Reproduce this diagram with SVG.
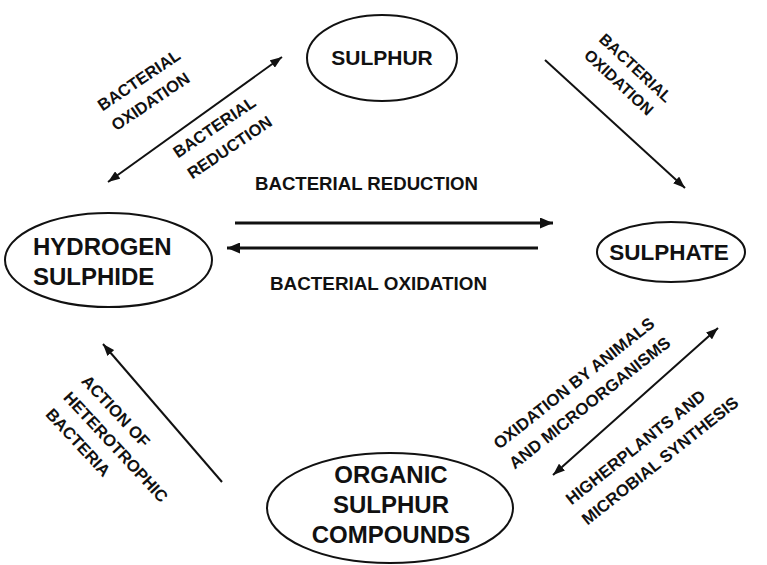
<svg xmlns="http://www.w3.org/2000/svg" width="767" height="565" viewBox="0 0 767 565">
<defs>
<style>
.node ellipse{fill:#fff;stroke:#111;stroke-width:2}
.nt{font-family:"Liberation Sans",Arial,sans-serif;font-weight:bold;font-size:24px;fill:#111}
.lbl{font-family:"Liberation Sans",Arial,sans-serif;font-weight:bold;fill:#111}
.conn line{stroke:#111;fill:none}
.d{stroke-width:2}
.h{stroke-width:3}
</style>
<marker id="ah" markerUnits="userSpaceOnUse" markerWidth="12" markerHeight="9" refX="12" refY="4.5" orient="auto-start-reverse" viewBox="0 0 12 9">
<path d="M0,0 L12,4.5 L0,9 z" fill="#111"/>
</marker>
<marker id="ahh" markerUnits="userSpaceOnUse" markerWidth="13" markerHeight="11" refX="13" refY="5.5" orient="auto" viewBox="0 0 13 11">
<path d="M0,0 L13,5.5 L0,11 z" fill="#111"/>
</marker>
</defs>
<rect width="767" height="565" fill="#fff"/>

<g id="sulphur" class="node">
<ellipse cx="382" cy="58" rx="75" ry="43"/>
<text class="nt" x="382" y="65" text-anchor="middle" style="font-size:21px">SULPHUR</text>
</g>

<g id="hydrogen-sulphide" class="node">
<ellipse cx="108.5" cy="260" rx="103.5" ry="47"/>
<text class="nt" x="33" y="255">HYDROGEN</text>
<text class="nt" x="33" y="285">SULPHIDE</text>
</g>

<g id="sulphate" class="node">
<ellipse cx="671" cy="252" rx="74" ry="30"/>
<text class="nt" x="669" y="260" text-anchor="middle" style="font-size:22.5px">SULPHATE</text>
</g>

<g id="organic-sulphur-compounds" class="node">
<ellipse cx="390" cy="508" rx="123" ry="55"/>
<text class="nt" x="391" y="483" text-anchor="middle">ORGANIC</text>
<text class="nt" x="391" y="513" text-anchor="middle">SULPHUR</text>
<text class="nt" x="391" y="543" text-anchor="middle">COMPOUNDS</text>
</g>

<g id="connectors" class="conn">
<line class="d" x1="108" y1="182" x2="282" y2="57" marker-start="url(#ah)" marker-end="url(#ah)"/>
<line class="d" x1="545" y1="60" x2="685" y2="188" marker-end="url(#ah)"/>
<line class="h" x1="235" y1="223" x2="553" y2="223" marker-end="url(#ahh)"/>
<line class="h" x1="538" y1="248" x2="227" y2="248" marker-end="url(#ahh)"/>
<line class="d" x1="222" y1="482" x2="103" y2="344" marker-end="url(#ah)"/>
<line class="d" x1="553" y1="475" x2="718" y2="328" marker-start="url(#ah)" marker-end="url(#ah)"/>
</g>

<g id="labels">
<text class="lbl" font-size="18.6" x="255" y="190" textLength="223" lengthAdjust="spacingAndGlyphs">BACTERIAL REDUCTION</text>
<text class="lbl" font-size="18.6" x="270" y="290" textLength="217" lengthAdjust="spacingAndGlyphs">BACTERIAL OXIDATION</text>

<g transform="translate(99.3,106.6) rotate(-34)">
<text class="lbl" font-size="16.5" x="0" y="5.9">BACTERIAL</text>
<text class="lbl" font-size="16.5" x="0" y="30.1">OXIDATION</text>
</g>
<g transform="translate(174.7,153.6) rotate(-34)">
<text class="lbl" font-size="16.5" x="0" y="5.9">BACTERIAL</text>
<text class="lbl" font-size="16.5" x="0" y="31.2">REDUCTION</text>
</g>
<g transform="translate(601.9,36.3) rotate(43)">
<text class="lbl" font-size="16" x="0" y="5.7">BACTERIAL</text>
<text class="lbl" font-size="16" x="0" y="27.7">OXIDATION</text>
</g>
<g transform="translate(84.8,377.6) rotate(47)">
<text class="lbl" font-size="16.6" x="0" y="5.9">ACTION OF</text>
<text class="lbl" font-size="16.6" x="0" y="30.4">HETEROTROPHIC</text>
<text class="lbl" font-size="16.6" x="0" y="54.9">BACTERIA</text>
</g>
<g transform="translate(495.4,445.3) rotate(-38.5)">
<text class="lbl" font-size="16.8" x="0" y="6">OXIDATION BY ANIMALS</text>
<text class="lbl" font-size="16.8" x="0" y="31.2">AND MICROORGANISMS</text>
</g>
<g transform="translate(567.7,500.9) rotate(-38.5)">
<text class="lbl" font-size="16.8" x="0" y="6">HIGHERPLANTS AND</text>
<text class="lbl" font-size="16.8" x="0" y="31.8">MICROBIAL SYNTHESIS</text>
</g>
</g>
</svg>
